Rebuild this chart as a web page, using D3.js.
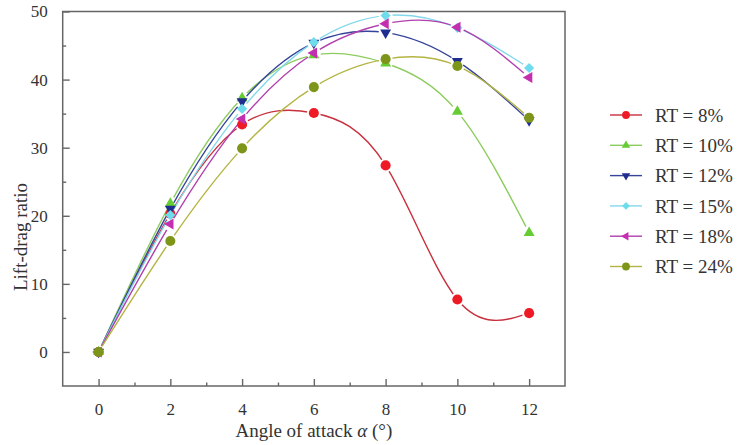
<!DOCTYPE html>
<html>
<head>
<meta charset="utf-8">
<script src="https://cdn.jsdelivr.net/npm/d3@7"></script>
<style>
  html, body { margin: 0; padding: 0; background: #fff; }
  svg { display: block; font-family: "Liberation Serif", "Times New Roman", serif; }
</style>
</head>
<body>
<svg id="chart" width="741" height="445"></svg>
<script>
// Angle of attack (degrees)
const angles = [0, 2, 4, 6, 8, 10, 12];

// Lift-drag ratio for each relative thickness
const rt8  = [0, 20.3, 33.4, 35.1, 27.4, 7.7, 5.7];
const rt10 = [0, 21.8, 37.3, 43.6, 42.4, 35.3, 17.5];
const rt12 = [0, 21.0, 36.8, 45.4, 46.9, 42.7, 34.0];
const rt15 = [0, 20.1, 35.7, 45.5, 49.4, 47.6, 41.7];
const rt18 = [0, 18.8, 34.2, 43.9, 48.2, 47.7, 40.3];
const rt24 = [0, 16.3, 29.9, 38.9, 43.0, 42.0, 34.4];

const seriesNames = ["RT = 8%", "RT = 10%", "RT = 12%", "RT = 15%", "RT = 18%", "RT = 24%"];
const seriesValues = [rt8, rt10, rt12, rt15, rt18, rt24];

const xTicks = [0, 2, 4, 6, 8, 10, 12];
const yTicks = [0, 10, 20, 30, 40, 50];

// Styling per series: marker fill, line colour, marker shape
const markerColors = ["#ee1a26", "#66cc33", "#1f2d8f", "#6fdcee", "#c42fb0", "#7d9619"];
const lineColors   = ["#c8303e", "#8ccc5e", "#34449a", "#82d8ea", "#b13fae", "#b4b444"];
const shapes = [
  { type: d3.symbolCircle,   rot: 0,   size: 80 },
  { type: d3.symbolTriangle, rot: 0,   size: 52 },
  { type: d3.symbolTriangle, rot: 180, size: 52 },
  { type: d3.symbolSquare,   rot: 45,  size: 52 },
  { type: d3.symbolTriangle, rot: -90, size: 52 },
  { type: d3.symbolCircle,   rot: 0,   size: 80 }
];

const svg = d3.select("#chart");
const plotLeft = 62.7, plotRight = 565, plotTop = 11.5, plotBottom = 386;

const x = d3.scaleLinear().domain([-1, 13]).range([plotLeft, plotRight]);
const y = d3.scaleLinear().domain([-5, 50]).range([plotBottom, plotTop]);

const axisColor = "#666";

// Frame
svg.append("rect")
  .attr("x", plotLeft).attr("y", plotTop)
  .attr("width", plotRight - plotLeft).attr("height", plotBottom - plotTop)
  .attr("fill", "none").attr("stroke", axisColor).attr("stroke-width", 1.5);

// Bottom axis: major and minor ticks pointing inward
const xAxis = svg.append("g").attr("transform", `translate(0,${plotBottom})`)
  .call(d3.axisBottom(x).tickValues(xTicks).tickSizeInner(-7).tickSizeOuter(0).tickPadding(17)
    .tickFormat(d3.format("d")));
svg.append("g").attr("transform", `translate(0,${plotBottom})`)
  .call(d3.axisBottom(x).tickValues(d3.range(1, 13, 2)).tickSizeInner(-3.5).tickSizeOuter(0).tickFormat(""));

// Left axis
const yAxis = svg.append("g").attr("transform", `translate(${plotLeft},0)`)
  .call(d3.axisLeft(y).tickValues(yTicks).tickSizeInner(-7).tickSizeOuter(0).tickPadding(15)
    .tickFormat(d3.format("d")));
svg.append("g").attr("transform", `translate(${plotLeft},0)`)
  .call(d3.axisLeft(y).tickValues(d3.range(5, 50, 10)).tickSizeInner(-3.5).tickSizeOuter(0).tickFormat(""));

svg.selectAll(".domain").remove();
svg.selectAll(".tick line").attr("stroke", axisColor).attr("stroke-width", 1.4);
svg.selectAll(".tick text")
  .attr("fill", "#333").attr("font-size", 17)
  .attr("font-family", "Liberation Serif, serif");
xAxis.selectAll(".tick text").attr("dy", "0.71em");

// Axis titles
svg.append("text")
  .attr("x", (plotLeft + plotRight) / 2).attr("y", 437)
  .attr("text-anchor", "middle").attr("font-size", 19).attr("fill", "#333")
  .call(t => {
    t.append("tspan").text("Angle of attack ");
    t.append("tspan").attr("font-style", "italic").text("α");
    t.append("tspan").text(" (°)");
  });

svg.append("text")
  .attr("transform", `translate(27,237) rotate(-90)`)
  .attr("text-anchor", "middle").attr("font-size", 19).attr("fill", "#333")
  .text("Lift-drag ratio");

// Curves with a small gap around each of the series' own markers
const line = d3.line()
  .x((d, i) => x(angles[i]))
  .y(d => y(d))
  .curve(d3.curveNatural);

const defs = svg.append("defs");
seriesValues.forEach((vals, s) => {
  const m = defs.append("mask").attr("id", `gap${s}`).attr("maskUnits", "userSpaceOnUse")
    .attr("x", 0).attr("y", 0).attr("width", 741).attr("height", 445);
  m.append("rect").attr("width", 741).attr("height", 445).attr("fill", "#fff");
  m.selectAll("circle").data(vals).join("circle")
    .attr("cx", (d, i) => x(angles[i])).attr("cy", d => y(d)).attr("r", 7).attr("fill", "#000");
});

seriesValues.forEach((vals, s) => {
  svg.append("path")
    .datum(vals)
    .attr("d", line)
    .attr("fill", "none")
    .attr("stroke", lineColors[s])
    .attr("stroke-width", 1.4)
    .attr("mask", `url(#gap${s})`);
});

seriesValues.forEach((vals, s) => {
  const sh = shapes[s];
  svg.append("g").selectAll("path").data(vals).join("path")
    .attr("d", d3.symbol().type(sh.type).size(sh.size))
    .attr("transform", (d, i) => `translate(${x(angles[i])},${y(d)}) rotate(${sh.rot})`)
    .attr("fill", markerColors[s]);
});

// Legend
const legendY = [115, 145.3, 175.6, 205.9, 236.2, 266.5];
const legend = svg.append("g");
seriesNames.forEach((name, s) => {
  const g = legend.append("g").attr("transform", `translate(0,${legendY[s]})`);
  g.append("line").attr("x1", 610).attr("x2", 642).attr("y1", 0).attr("y2", 0)
    .attr("stroke", lineColors[s]).attr("stroke-width", 1.4);
  const sh = shapes[s];
  g.append("path")
    .attr("d", d3.symbol().type(sh.type).size(sh.size * 0.6))
    .attr("transform", `translate(626,0) rotate(${sh.rot})`)
    .attr("fill", markerColors[s]);
  g.append("text").attr("x", 655).attr("y", 0).attr("dy", "0.35em")
    .attr("font-size", 19).attr("fill", "#333").text(name);
});
</script>
</body>
</html>
